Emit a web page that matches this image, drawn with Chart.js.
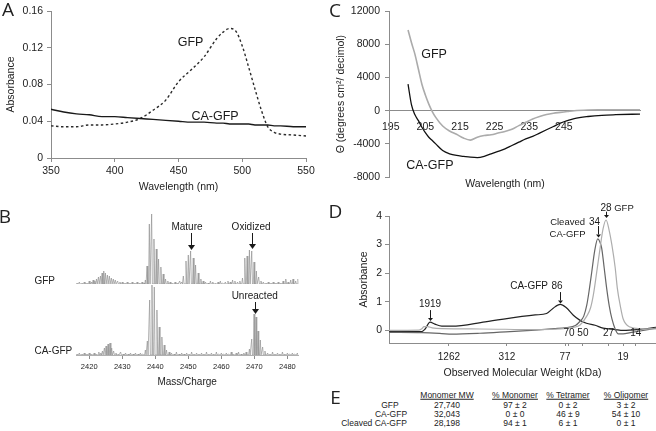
<!DOCTYPE html>
<html>
<head>
<meta charset="utf-8">
<script src="https://cdn.jsdelivr.net/npm/chart.js@4.4.1/dist/chart.umd.min.js"></script>
<style>
  body { margin: 0; background: #fff; }
  #fig { position: relative; width: 656px; height: 431px; overflow: hidden; background: #fff;
         font-family: 'Liberation Sans', Arial, sans-serif; color: #222; }
  #fig canvas { position: absolute; }
  .t { position: absolute; white-space: nowrap; line-height: 1; transform: translate(-50%, -50%); }
  .panel { font-family: 'Open Sans', sans-serif; font-size: 19px; }
</style>
</head>
<body>
<div id="fig">
  <canvas id="cA"  width="330" height="200" style="left:0;top:0"></canvas>
  <canvas id="cC"  width="326" height="200" style="left:330px;top:0"></canvas>
  <canvas id="cB1" width="330" height="90"  style="left:0;top:200px"></canvas>
  <canvas id="cB2" width="330" height="120" style="left:0;top:280px"></canvas>
  <canvas id="cD"  width="326" height="185" style="left:330px;top:200px"></canvas>
</div>
<script>
// ─── A: absorbance spectra ────────────────────────────────────────────────────
const absWl    = [350,360,370,380,390,400,410,420,430,440,450,460,470,480,485,490,495,500,505,510,515,520,525,530,540,550];
const absGfp   = [0.035,0.034,0.034,0.036,0.036,0.037,0.039,0.043,0.052,0.063,0.083,0.096,0.110,0.130,0.137,0.141,0.138,0.122,0.099,0.075,0.052,0.034,0.028,0.026,0.025,0.024];
const absCaGfp = [0.053,0.050,0.048,0.047,0.045,0.045,0.044,0.043,0.042,0.041,0.040,0.039,0.039,0.038,0.038,0.037,0.037,0.037,0.037,0.036,0.036,0.036,0.035,0.035,0.034,0.034];

// ─── C: circular dichroism ────────────────────────────────────────────────────
const cdWl    = [200,201,202,203,204,205,206,207,208,210,212,214,216,218,220,222,224,226,228,230,232,234,236,238,240,242,244,246,248,252,256,260,267];
const cdGfp   = [9750,8200,6800,5000,3200,1900,800,-100,-800,-1850,-2450,-2850,-3300,-3550,-3200,-3000,-2900,-2700,-2500,-2250,-1800,-1400,-1000,-700,-450,-300,-200,-100,0,80,100,110,120];
const cdCaGfp = [3200,700,-500,-1200,-2000,-2650,-3200,-3600,-4000,-4800,-5200,-5400,-5500,-5600,-5650,-5500,-5200,-4900,-4600,-4200,-3800,-3400,-3100,-2700,-2300,-1900,-1500,-1200,-950,-700,-550,-480,-400];
const cdTicks = [195,205,215,225,235,245];

// ─── B: mass spectra [m/z, relative intensity] ────────────────────────────────
const msGfp = [
  [2416.3,1],[2417.0,2],[2417.8,1],[2418.5,2],[2419.3,1],[2420.0,3],
  [2420.7,2],[2421.2,4],[2421.7,3],[2422.2,5],[2422.8,7],[2423.4,8],[2423.9,11],[2424.4,13],[2424.9,11],[2425.5,9],
  [2426.1,8],[2426.7,6],[2427.3,5],[2427.9,4],[2428.6,3],[2429.3,2],
  [2430.0,2],[2430.8,1],[2431.5,2],[2432.3,1],[2433.0,2],[2433.8,1],[2434.5,2],[2435.3,1],[2436.0,2],[2436.6,1],
  [2437.0,4],[2437.5,18],[2438.2,60],[2438.9,70],[2439.6,45],[2440.3,35],[2441.0,25],[2441.7,17],[2442.4,10],[2443.1,5],[2443.8,3],
  [2444.5,2],[2445.2,1],[2446.0,2],[2446.7,1],[2447.4,3],[2448.0,2],
  [2448.5,8],[2449.3,23],[2450.0,29],[2450.7,33],[2451.5,26],[2452.2,19],[2453.0,11],[2453.8,5],[2454.5,3],
  [2455.2,2],[2456.0,1],[2456.7,3],[2457.4,2],[2458.2,1],[2459.0,2],[2459.7,3],[2460.4,1],[2461.2,2],[2462.0,3],
  [2462.7,2],[2463.4,4],[2464.1,3],[2464.9,2],[2465.6,3],
  [2466.4,6],[2467.1,26],[2467.8,28],[2468.5,34],[2469.2,33],[2469.9,22],[2470.6,13],[2471.3,7],[2472.0,3],
  [2472.7,2],[2473.5,1],[2474.2,2],[2475.0,1],[2475.7,2],[2476.5,1],[2477.2,2],[2478.0,1],[2478.7,3],[2479.5,5],
  [2480.2,2],[2481.0,4],[2481.7,5],[2482.5,3],[2483.2,5]
];
const msCaGfp = [
  [2416.3,1],[2417.0,2],[2417.8,1],[2418.5,2],[2419.3,1],[2420.0,2],[2420.7,1],[2421.5,2],[2422.2,1],[2422.9,3],
  [2423.5,2],[2424.0,4],[2424.6,7],[2425.1,9],[2425.7,11],[2426.3,12],[2426.8,7],[2427.4,4],[2428.1,2],
  [2428.8,1],[2429.5,3],[2430.3,1],[2431.0,2],[2431.8,1],[2432.5,2],[2433.3,1],[2434.0,2],[2434.8,1],[2435.5,2],[2436.2,1],
  [2437.0,5],[2437.6,14],[2438.3,55],[2439.0,70],[2439.7,68],[2440.5,45],[2441.2,28],[2442.0,18],[2442.7,10],[2443.4,5],[2444.2,3],
  [2444.9,2],[2445.7,1],[2446.4,3],[2447.2,1],[2448.0,2],[2448.7,1],[2449.5,2],[2450.2,1],[2451.0,3],[2451.7,1],
  [2452.5,2],[2453.2,1],[2454.0,2],[2454.7,1],[2455.5,3],[2456.2,1],[2457.0,2],[2457.7,1],[2458.5,3],[2459.2,1],
  [2460.0,2],[2460.7,1],[2461.5,2],[2462.2,1],[2463.0,3],[2463.7,1],[2464.5,2],[2465.2,3],[2466.0,1],[2466.8,2],[2467.5,3],
  [2468.5,6],[2469.2,16],[2469.9,41],[2470.5,38],[2471.1,24],[2471.8,15],[2472.5,8],[2473.2,4],
  [2474.0,2],[2474.7,1],[2475.5,3],[2476.2,1],[2477.0,2],[2477.7,1],[2478.5,3],[2479.2,1],[2480.0,2],[2480.7,1],
  [2481.5,2],[2482.2,1],[2483.0,2]
];
const msTicks = [2420,2430,2440,2450,2460,2470,2480];

// ─── D: size exclusion [observed MW kDa, absorbance] ──────────────────────────
const secCaGfp = [[5346,-0.04],[2430,-0.04],[2240,0.05],[1990,0.29],[1770,0.22],[1500,0.15],[1180,0.15],[528,0.30],[158,0.54],[120,0.59],[103,0.77],[86.7,0.91],[75,0.80],[63,0.53],[54,0.36],[46,0.25],[37.3,0.18],[30.8,0.08],[23,0.03],[19,0.0],[12.6,0.04],[8.6,0.11]];
const secCleaved = [[5346,-0.07],[2430,-0.08],[1500,-0.11],[1180,-0.13],[600,-0.1],[290,-0.04],[158,0.01],[100,0.06],[75,0.1],[60,0.17],[53.6,0.32],[49,0.5],[45.6,0.88],[42.8,1.45],[40.4,2.05],[37.6,2.8],[35,3.2],[33.3,3.1],[31.8,2.87],[30,2.2],[28.2,1.46],[26.5,0.85],[24.9,0.41],[23,0.05],[21.3,-0.12],[19,-0.12],[16,-0.08],[12.6,-0.02],[8.6,0.08]];
const secGfp = [[5346,0.0],[2600,0.01],[2430,0.06],[2300,0.13],[2100,0.13],[1900,0.09],[1500,0.06],[600,0.05],[158,0.03],[100,0.04],[75,0.07],[60,0.12],[53.6,0.19],[45.6,0.5],[41.5,0.8],[38.9,1.24],[36,2.0],[33.1,2.87],[30.8,3.55],[28.6,3.86],[26.6,3.5],[24.9,2.99],[23,2.2],[21.8,1.46],[20.3,0.85],[19,0.41],[16.1,0.12],[12.6,0.06],[8.6,0.05]];
const secMajor   = [1262,312,77,19];
const secMarkers = [70,50,27,14];

// ─── E: oligomer table ────────────────────────────────────────────────────────
const tblRows     = ['GFP','CA-GFP','Cleaved CA-GFP'];
const tblHead     = ['Monomer MW','% Monomer','% Tetramer','% Oligomer'];
const monomerMW   = ['27,740','32,043','28,198'];
const pctMonomer  = ['97 ± 2','0 ± 0','94 ± 1'];
const pctTetramer = ['0 ± 2','46 ± 9','6 ± 1'];
const pctOligomer = ['3 ± 2','54 ± 10','0 ± 1'];

// ─── shared setup ─────────────────────────────────────────────────────────────
const FONT = "'Liberation Sans', Arial, sans-serif";
Chart.defaults.font.family = FONT;
Chart.defaults.color = '#222';
Chart.defaults.animation = false;
Chart.defaults.responsive = false;
Chart.defaults.devicePixelRatio = 1;
Chart.defaults.plugins.legend.display = false;
Chart.defaults.plugins.tooltip.enabled = false;
Chart.defaults.elements.point.radius = 0;

const AXIS = '#8c8c8c';
const tickGrid = len => ({ display: true, drawOnChartArea: false, drawTicks: true, tickLength: len, color: AXIS });
const border = { display: true, color: AXIS, width: 1 };
const pairs = (xs, ys) => xs.map((x, i) => ({ x, y: ys[i] }));
const pts = arr => arr.map(([x, y]) => ({ x, y }));

// each spike goes up from and back down to the baseline
function spectrum(peaks) {
  const out = [];
  peaks.forEach(([mz, h]) => { out.push({ x: mz - 0.22, y: 0 }, { x: mz, y: h }, { x: mz + 0.22, y: 0 }); });
  return out;
}

// text + arrows placed in data coordinates
function notes(labels, arrows) {
  return {
    id: 'notes',
    afterDatasetsDraw(chart) {
      const { ctx, scales } = chart;
      const sx = scales.x, sy = scales.y;
      ctx.save();
      ctx.fillStyle = '#1a1a1a';
      ctx.strokeStyle = '#1a1a1a';
      ctx.textAlign = 'center';
      ctx.textBaseline = 'middle';
      labels.forEach(l => {
        ctx.font = `${l.size}px ${FONT}`;
        ctx.fillText(l.text, sx.getPixelForValue(l.x), sy.getPixelForValue(l.y));
      });
      arrows.forEach(a => {
        const px = Math.round(sx.getPixelForValue(a.x)) + 0.5;
        const y1 = sy.getPixelForValue(a.y1), y2 = sy.getPixelForValue(a.y2);
        const h = a.head, w = a.w;
        ctx.lineWidth = 1;
        ctx.beginPath(); ctx.moveTo(px, y1); ctx.lineTo(px, y2 - h); ctx.stroke();
        ctx.beginPath(); ctx.moveTo(px - w, y2 - h); ctx.lineTo(px + w, y2 - h); ctx.lineTo(px, y2); ctx.closePath(); ctx.fill();
      });
      ctx.restore();
    }
  };
}

// ─── A ────────────────────────────────────────────────────────────────────────
new Chart(document.getElementById('cA'), {
  type: 'line',
  data: { datasets: [
    { data: pairs(absWl, absCaGfp), borderColor: '#1a1a1a', borderWidth: 1.4, cubicInterpolationMode: 'monotone' },
    { data: pairs(absWl, absGfp), borderColor: '#2a2a2a', borderWidth: 1.4, borderDash: [2.5, 2.5], cubicInterpolationMode: 'monotone' },
  ] },
  options: {
    layout: { padding: { top: 11, right: 24, left: 0, bottom: 0 } },
    scales: {
      x: { type: 'linear', min: 350, max: 550,
        ticks: { stepSize: 50, autoSkip: false, padding: 3, font: { size: 10.5 } },
        grid: tickGrid(4), border,
        title: { display: true, text: 'Wavelength (nm)', font: { size: 10.5 }, padding: { top: 0, bottom: 6.7 } },
        afterFit: s => { s.height = 42; } },
      y: { min: 0, max: 0.16,
        ticks: { stepSize: 0.04, autoSkip: false, padding: 4, font: { size: 10.5 }, callback: v => v === 0 ? '0' : v.toFixed(2) },
        grid: tickGrid(4), border,
        title: { display: true, text: 'Absorbance', font: { size: 10.5 }, padding: { top: 5, bottom: 0 } },
        afterFit: s => { s.width = 51; } },
    }
  },
  plugins: [notes([
    { text: 'GFP', x: 459.5, y: 0.1255, size: 12.5 },
    { text: 'CA-GFP', x: 478.7, y: 0.0451, size: 12.5 },
  ], [])]
});

// ─── C ────────────────────────────────────────────────────────────────────────
new Chart(document.getElementById('cC'), {
  type: 'line',
  data: { datasets: [
    { data: pairs(cdWl, cdGfp), borderColor: '#ababab', borderWidth: 1.6, cubicInterpolationMode: 'monotone' },
    { data: pairs(cdWl, cdCaGfp), borderColor: '#111', borderWidth: 1.3, cubicInterpolationMode: 'monotone' },
  ] },
  options: {
    layout: { padding: { top: 10, right: 16, left: 0, bottom: 23 } },
    scales: {
      x: { type: 'linear', min: 194.5, max: 267, position: { y: 0 },
        afterBuildTicks: s => { s.ticks = cdTicks.map(value => ({ value })); },
        ticks: { autoSkip: false, padding: 10, font: { size: 10.5 }, callback: v => String(v) },
        grid: { display: false, drawTicks: false }, border },
      y: { min: -8000, max: 12000,
        ticks: { stepSize: 4000, autoSkip: false, padding: 5, font: { size: 10.5 }, callback: v => String(v) },
        grid: tickGrid(4), border,
        title: { display: true, text: 'Θ (degrees cm²/ decimol)', font: { size: 10.5 }, padding: { top: 4.7, bottom: 0 } },
        afterFit: s => { s.width = 59; } },
    }
  },
  plugins: [notes([
    { text: 'GFP', x: 207.5, y: 6840, size: 12.5 },
    { text: 'CA-GFP', x: 206.3, y: -6600, size: 12.5 },
  ], [])]
});

// ─── B ────────────────────────────────────────────────────────────────────────
const MS_MIN = 2416, MS_MAX = 2483.3;
const msLine = { borderColor: '#939393', borderWidth: 0.7, tension: 0 };

new Chart(document.getElementById('cB1'), {
  type: 'line',
  data: { datasets: [{ data: spectrum(msGfp), ...msLine }] },
  options: {
    layout: { padding: { top: 14, right: 31.7, left: 76, bottom: 6 } },
    scales: {
      x: { type: 'linear', min: MS_MIN, max: MS_MAX, display: false },
      y: { min: 0, max: 70, display: false },
    }
  },
  plugins: [notes([
    { text: 'Mature', x: 2449.6, y: 57, size: 10 },
    { text: 'Oxidized', x: 2469.0, y: 57, size: 10 },
  ], [
    { x: 2450.7, y1: 51, y2: 34, head: 5, w: 3.5 },
    { x: 2469.3, y1: 51, y2: 35, head: 5, w: 3.5 },
  ])]
});

new Chart(document.getElementById('cB2'), {
  type: 'line',
  data: { datasets: [{ data: spectrum(msCaGfp), ...msLine }] },
  options: {
    layout: { padding: { top: 5, right: 31.7, left: 76, bottom: 0 } },
    scales: {
      x: { type: 'linear', min: MS_MIN, max: MS_MAX,
        afterBuildTicks: s => { s.ticks = msTicks.map(value => ({ value })); },
        ticks: { autoSkip: false, maxRotation: 0, padding: 3.5, font: { size: 7.5 }, callback: v => String(v) },
        grid: tickGrid(4), border: { display: true, color: '#b0b0b0', width: 1 },
        title: { display: true, text: 'Mass/Charge', font: { size: 10 }, padding: { top: 0, bottom: 12 } },
        afterFit: s => { s.height = 45; } },
      y: { min: 0, max: 70, display: false },
    }
  },
  plugins: [notes([
    { text: 'Unreacted', x: 2470.1, y: 59, size: 10 },
  ], [
    { x: 2470.2, y1: 53, y2: 41, head: 5, w: 3.5 },
  ])]
});

// ─── D ────────────────────────────────────────────────────────────────────────
new Chart(document.getElementById('cD'), {
  type: 'line',
  data: { datasets: [
    { data: pts(secGfp), borderColor: '#adadad', borderWidth: 1.2, cubicInterpolationMode: 'monotone' },
    { data: pts(secCleaved), borderColor: '#666', borderWidth: 1.2, cubicInterpolationMode: 'monotone' },
    { data: pts(secCaGfp), borderColor: '#222', borderWidth: 1.2, cubicInterpolationMode: 'monotone' },
  ] },
  options: {
    layout: { padding: { top: 16, right: 0, left: 0, bottom: 0 } },
    scales: {
      x: { type: 'logarithmic', reverse: true, min: 8.6, max: 5346,
        afterBuildTicks: s => { s.ticks = secMajor.concat(secMarkers).map(value => ({ value })); },
        ticks: { autoSkip: false, maxRotation: 0, padding: 5, font: { size: 10 },
          callback: v => secMajor.includes(v) ? String(v) : '' },
        grid: tickGrid(3), border,
        title: { display: true, text: 'Observed Molecular Weight (kDa)', font: { size: 10.5 }, padding: { top: 0, bottom: 5.7 } },
        afterFit: s => { s.height = 42; } },
      y: { min: -0.44, max: 4,
        afterBuildTicks: s => { s.ticks = [0, 1, 2, 3, 4].map(value => ({ value })); },
        ticks: { autoSkip: false, padding: 3, font: { size: 10.5 }, callback: v => String(v) },
        grid: tickGrid(4), border,
        title: { display: true, text: 'Absorbance', font: { size: 10.5 }, padding: { top: 27.7, bottom: 0 } },
        afterFit: s => { s.width = 59; } },
    }
  },
  plugins: [notes([
    { text: '1919', x: 1991, y: 0.93, size: 10 },
    { text: 'CA-GFP', x: 183, y: 1.55, size: 10 },
    { text: '86', x: 93.3, y: 1.55, size: 10 },
    { text: 'Cleaved', x: 72.4, y: 3.79, size: 9.5 },
    { text: 'CA-GFP', x: 72.4, y: 3.37, size: 9.5 },
    { text: '34', x: 37.8, y: 3.79, size: 10 },
    { text: '28', x: 28.6, y: 4.28, size: 10 },
    { text: 'GFP', x: 18.6, y: 4.28, size: 9.5 },
    { text: '70', x: 70, y: -0.09, size: 10 },
    { text: '50', x: 50, y: -0.09, size: 10 },
    { text: '27', x: 27, y: -0.09, size: 10 },
    { text: '14', x: 14, y: -0.09, size: 10 },
  ], [
    { x: 1991, y1: 0.71, y2: 0.33, head: 3, w: 2.5 },
    { x: 86.7, y1: 1.34, y2: 0.94, head: 3, w: 2.5 },
    { x: 35, y1: 3.65, y2: 3.25, head: 3, w: 2.5 },
    { x: 28.6, y1: 4.15, y2: 3.93, head: 3, w: 2.5 },
  ])]
});

// ─── HTML text: panel letters, B trace names, C x title, table E ──────────────
const fig = document.getElementById('fig');
function place(text, x, y, css) {
  const d = document.createElement('div');
  d.className = 't';
  d.textContent = text;
  d.style.left = x + 'px';
  d.style.top = y + 'px';
  Object.assign(d.style, css || {});
  fig.appendChild(d);
  return d;
}
[['A', 8, 8.5], ['B', 5, 215.5], ['C', 335, 9.5], ['D', 335.5, 210.5], ['E', 335.5, 397]]
  .forEach(([t, x, y]) => { place(t, x, y).classList.add('panel'); });

place('GFP', 44.7, 281, { fontSize: '10px' });
place('CA-GFP', 53.3, 351, { fontSize: '10px' });
place('Wavelength (nm)', 505, 183, { fontSize: '10.5px' });

const colX = [447, 515, 568, 626];
const rowY = [405, 414, 423.3];
const rowLabelX = [390, 391, 374];
tblHead.forEach((h, j) => place(h, colX[j], 395, { fontSize: '8.5px', textDecoration: 'underline' }));
const tblCols = [monomerMW, pctMonomer, pctTetramer, pctOligomer];
tblRows.forEach((r, i) => {
  place(r, rowLabelX[i], rowY[i], { fontSize: '8.5px' });
  tblCols.forEach((col, j) => place(col[i], colX[j], rowY[i], { fontSize: '8.5px' }));
});
</script>
</body>
</html>
